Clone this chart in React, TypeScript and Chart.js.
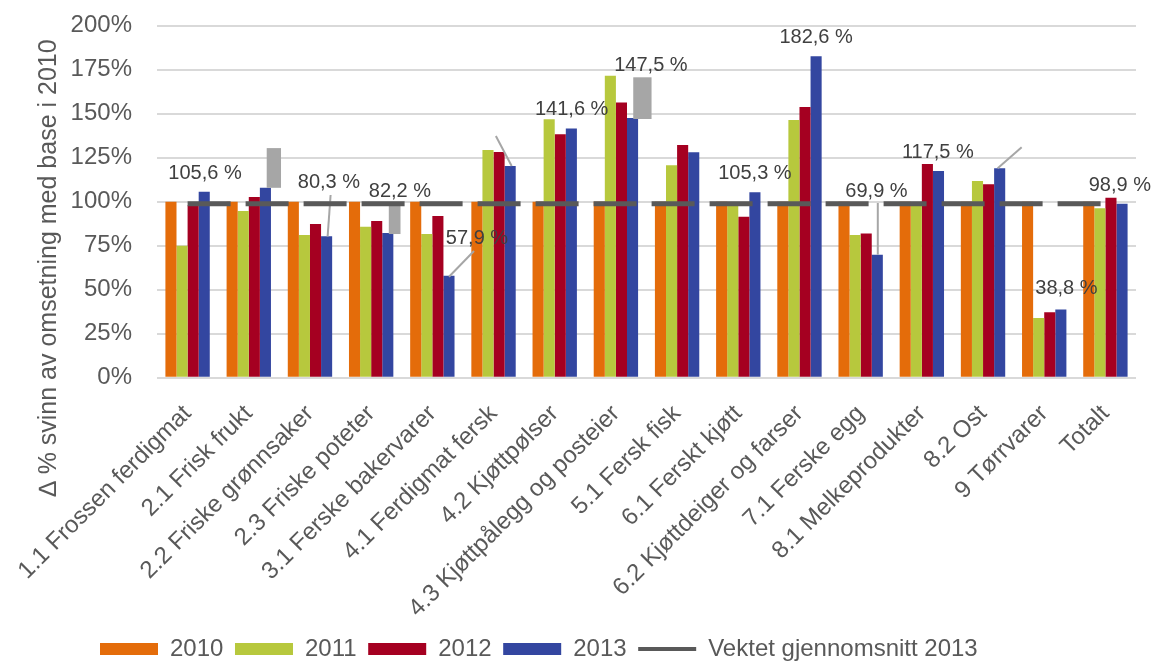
import React, { useEffect, useRef } from "react";
import { Chart, registerables } from "chart.js";

Chart.register(...registerables);

const FONT = "'Liberation Sans', Arial, sans-serif";

// Product groups on the x axis
const categories = [
  "1.1 Frossen ferdigmat",
  "2.1 Frisk frukt",
  "2.2 Friske grønnsaker",
  "2.3 Friske poteter",
  "3.1 Ferske bakervarer",
  "4.1 Ferdigmat fersk",
  "4.2 Kjøttpølser",
  "4.3 Kjøttpålegg og posteier",
  "5.1 Fersk fisk",
  "6.1 Ferskt kjøtt",
  "6.2 Kjøttdeiger og farser",
  "7.1 Ferske egg",
  "8.1 Melkeprodukter",
  "8.2 Ost",
  "9 Tørrvarer",
  "Totalt",
];

const years = ["2010", "2011", "2012", "2013"];

// Waste as % of turnover, indexed to 2010 = 100 %
const values2010 = [100, 100, 100, 100, 100, 100, 100, 100, 100, 100, 100, 100, 100, 100, 100, 100];
const values2011 = [75.0, 94.7, 81.1, 85.8, 81.6, 129.4, 146.8, 171.6, 120.7, 97.5, 146.4, 81.1, 99.0, 111.8, 33.9, 96.3];
const values2012 = [98.0, 102.7, 87.3, 89.0, 91.9, 128.2, 138.3, 156.3, 132.2, 91.5, 153.8, 82.0, 121.4, 109.9, 37.2, 102.3];
const values2013 = [105.6, 107.9, 80.3, 82.2, 57.9, 120.3, 141.6, 147.5, 128.1, 105.3, 182.6, 69.9, 117.5, 119.0, 38.8, 98.9];

const weightedAverage2013 = 98.9;
const averageLabel = "Vektet gjennomsnitt 2013";

const yMin = 0;
const yMax = 200;
const yStep = 25;

const yTitle = "∆ % svinn av omsetning med base i 2010";

// Categories whose 2013 bar carries a value label
const labelled2013 = [0, 2, 3, 4, 6, 7, 9, 10, 11, 12, 14, 15];

const seriesColors = ["#E46C0A", "#B7C83D", "#A50021", "#3346A0"];
const seriesValues = [values2010, values2011, values2012, values2013];

// Placement of the 2013 callouts, relative to the top centre of the 2013 bar
const labelOffsets: Record<number, [number, number]> = {
  0: [0.8, -20.1],
  2: [2.3, -55.4],
  3: [12.1, -43.7],
  4: [28, -39.1],
  6: [0.3, -20.5],
  7: [18.4, -54.8],
  9: [0, -20.4],
  10: [0, -20.6],
  11: [-0.8, -64.7],
  12: [-0.6, -20.2],
  14: [5.6, -22.7],
  15: [-2.2, -20.3],
};
// leader lines: [x1, y1, x2, y2]
const leaderLines: Record<number, [number, number, number, number]> = {
  2: [4, -41.4, 1, 0.3],
  4: [25, -24.8, 0, 0.9],
  5: [-14.3, -30, 1.5, 0],
  11: [0.5, -51.7, 0.5, 0],
  13: [-2, 0, 22, -21],
};
// grey callout boxes: [x, y, w, h]
const calloutBoxes: Record<number, [number, number, number, number]> = {
  1: [1.3, -39.7, 14.3, 39.7],
  3: [1, -30, 11.7, 31],
  7: [0.7, -40.8, 18.3, 41.7],
};

const formatPct = (v: number) => v.toFixed(1).replace(".", ",") + " %";

const calloutPlugin = {
  id: "callouts",
  afterDatasetDraw(chart: any, args: any) {
    // boxes and leader lines go under the average line
    if (args.index !== 0) return;
    const meta = chart.getDatasetMeta(3);
    const ctx = chart.ctx;
    ctx.save();
    ctx.fillStyle = "#A6A6A6";
    Object.keys(calloutBoxes).forEach((k) => {
      const i = Number(k);
      const bar = meta.data[i];
      const [bx, by, bw, bh] = calloutBoxes[i];
      ctx.fillRect(bar.x + bx, bar.y + by, bw, bh);
    });
    ctx.strokeStyle = "#A6A6A6";
    ctx.lineWidth = 2;
    Object.keys(leaderLines).forEach((k) => {
      const i = Number(k);
      const bar = meta.data[i];
      const [x1, y1, x2, y2] = leaderLines[i];
      ctx.beginPath();
      ctx.moveTo(bar.x + x1, bar.y + y1);
      ctx.lineTo(bar.x + x2, bar.y + y2);
      ctx.stroke();
    });
    ctx.restore();
  },
  afterDatasetsDraw(chart: any) {
    const meta = chart.getDatasetMeta(3);
    const ctx = chart.ctx;
    ctx.save();
    ctx.font = `20px ${FONT}`;
    ctx.fillStyle = "#404040";
    ctx.textAlign = "center";
    ctx.textBaseline = "alphabetic";
    labelled2013.forEach((i) => {
      const bar = meta.data[i];
      const [dx, dy] = labelOffsets[i];
      ctx.fillText(formatPct(values2013[i]), bar.x + dx, bar.y + dy + 7.2);
    });
    ctx.restore();
  },
};

const yTitlePlugin = {
  id: "yTitle",
  afterDraw(chart: any) {
    const ctx = chart.ctx;
    ctx.save();
    ctx.translate(49, 268);
    ctx.rotate(-Math.PI / 2);
    ctx.font = `25px ${FONT}`;
    ctx.fillStyle = "#595959";
    ctx.textAlign = "center";
    ctx.textBaseline = "middle";
    ctx.fillText(yTitle, 0, 0);
    ctx.restore();
  },
};

// Start the legend row under the plot instead of at the canvas edge
const legendShiftPlugin = {
  id: "legendShift",
  afterLayout(chart: any) {
    if (chart.legend) chart.legend.left = 88.4;
  },
};

export default function App() {
  const canvasRef = useRef<HTMLCanvasElement>(null);

  useEffect(() => {
    const canvas = canvasRef.current;
    if (!canvas) return;

    const barSets = years.map((year, s) => ({
      type: "bar" as const,
      label: year,
      data: seriesValues[s],
      backgroundColor: seriesColors[s],
      borderWidth: 0,
      categoryPercentage: 0.725,
      barPercentage: 1,
      order: 0,
    }));

    const chart = new Chart(canvas, {
      type: "bar",
      data: {
        labels: categories,
        datasets: [
          ...barSets,
          {
            type: "line" as const,
            label: averageLabel,
            data: categories.map(() => weightedAverage2013),
            borderColor: "#595959",
            backgroundColor: "#595959",
            borderWidth: 5,
            borderDash: [43, 15],
            borderCapStyle: "butt",
            pointRadius: 0,
            pointHoverRadius: 0,
            fill: false,
            order: -1,
          } as any,
        ],
      },
      options: {
        responsive: false,
        animation: false,
        devicePixelRatio: 1,
        layout: { padding: { left: 0, right: 19, top: 25.7, bottom: -10 } },
        scales: {
          x: {
            offset: true,
            grid: { display: false, drawTicks: false },
            border: { display: false },
            ticks: {
              autoSkip: false,
              maxRotation: 45,
              minRotation: 45,
              padding: 22,
              color: "#595959",
              font: { family: FONT, size: 24 },
            },
            afterFit(scale: any) {
              scale.height = 247.7;
              scale.paddingLeft = 0;
              scale.paddingRight = 0;
            },
          },
          y: {
            min: yMin,
            max: yMax,
            grid: { color: "#D9D9D9", lineWidth: 2, drawTicks: false },
            border: { display: false },
            ticks: {
              stepSize: yStep,
              padding: 25,
              color: "#595959",
              font: { family: FONT, size: 24 },
              callback: (v: any) => `${v}%`,
            },
            afterFit(scale: any) {
              scale.width = 157;
              scale.paddingTop = 0;
              scale.paddingBottom = 0;
            },
          },
        },
        plugins: {
          tooltip: { enabled: false },
          legend: {
            position: "bottom",
            align: "start",
            labels: {
              usePointStyle: true,
              pointStyleWidth: 58,
              boxWidth: 58,
              boxHeight: 12,
              padding: 11.6,
              color: "#595959",
              font: { family: FONT, size: 24 },
              sort: (a: any, b: any) => a.datasetIndex - b.datasetIndex,
              generateLabels: (ch: any) => {
                const items = (Chart.defaults.plugins.legend.labels as any).generateLabels(ch);
                items.forEach((it: any) => {
                  const ds = ch.data.datasets[it.datasetIndex];
                  if (ds.type === "line") {
                    it.pointStyle = "line";
                    it.strokeStyle = "#595959";
                    it.lineWidth = 4;
                    it.lineDash = [];
                  } else {
                    it.pointStyle = "rect";
                    it.lineWidth = 0;
                  }
                });
                return items;
              },
            },
          },
        },
      },
      plugins: [calloutPlugin, yTitlePlugin, legendShiftPlugin],
    });

    return () => chart.destroy();
  }, []);

  return (
    <div style={{ position: "fixed", left: 0, top: 0, width: 1155, height: 661, background: "#fff" }}>
      <canvas ref={canvasRef} width={1155} height={661} style={{ display: "block" }} />
    </div>
  );
}
